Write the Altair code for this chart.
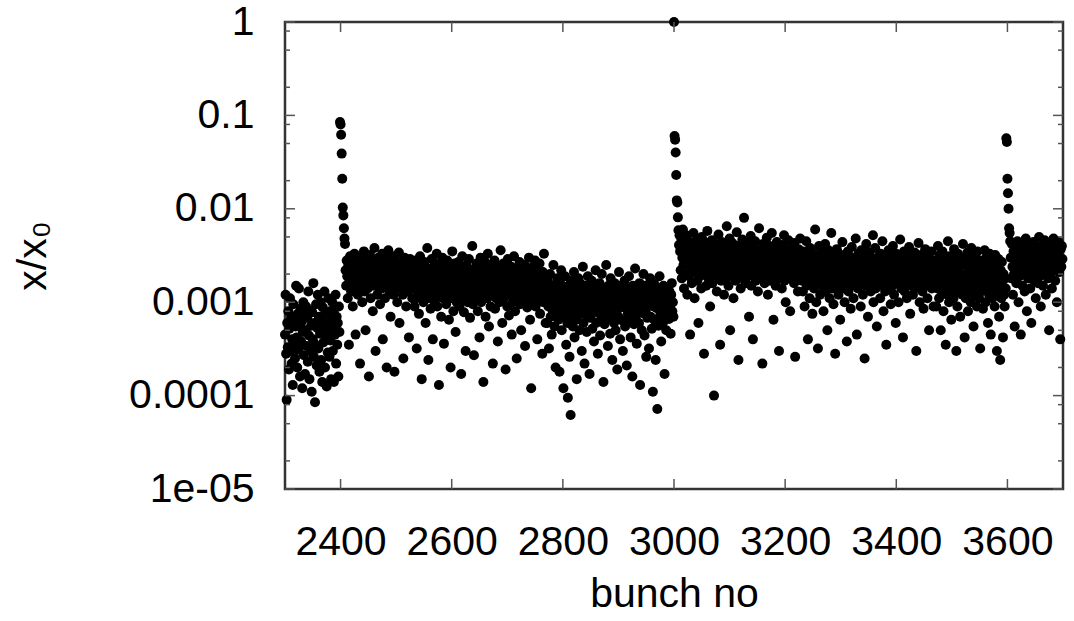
import altair as alt
import pandas as pd

# ---- values (x/x0 in units of 1e-4), one per bunch ----
seg_a_start = 2300
seg_a = [4.5, 12, 2.8, 0.9, 6, 3.3, 8, 1.9, 5.2, 11, 3, 7, 2.2, 4, 1.3, 9.5, 3.6, 6.5, 2.5, 5.5,
         15, 4.2, 2, 7.5, 3.1, 14, 5.8, 1.6, 8.5, 3.8, 6.2, 1.2, 4.8, 10, 2.7, 7.2, 1.7, 5, 9, 3.4,
         6.8, 2.3, 13, 4.4, 1.5, 8.2, 3, 5.6, 1.1, 7.8, 4, 16, 2.6, 6, 0.85, 3.5, 9.5, 2.1, 5.3, 12,
         3.2, 7, 1.8, 4.6, 10, 2.4, 6.4, 1.4, 8.8, 3.7, 5.5, 13, 2, 7.6, 4.2, 1.25, 6, 2.9, 11, 4.9,
         2.6, 8, 3.9, 1.5, 6.6, 10, 3, 5.4, 1.4, 8.5, 4.5, 12, 2.2, 7, 3.5, 6, 1.6, 9, 4.8]

spike1_start = 2399
spike1 = [850, 800, 620, 390, 210, 103, 85, 62, 48, 42]

seg_b1_start = 2409
seg_b1 = [22, 15, 28, 19, 11, 25, 3.5, 17, 31, 21, 13, 24, 18, 9, 27, 16, 33, 20, 4.5, 14,
          26, 19, 12, 23, 30, 17, 2.2, 21, 15, 29, 10, 24, 18, 35, 13, 22, 5, 16, 27, 20,
          14, 25, 1.6, 19, 32, 11, 23, 17, 28, 8, 21, 15, 38, 24, 3, 18, 26, 12, 20, 30,
          16, 22, 9.5, 27, 19, 14, 33, 4, 21, 17, 25, 11, 29, 18, 2, 23, 15, 36, 20, 13,
          26, 7, 19, 24, 16, 31, 12, 22, 1.8, 18, 28, 14, 21, 10, 25, 17, 34, 6, 20, 23,
          15, 27, 19, 12, 2.5, 22, 30, 16, 24, 9, 18, 26, 13, 21, 4.2, 17, 29, 14, 23, 19,
          11, 25]

seg_b2_start = 2531
seg_b2 = [14, 22, 9, 17, 28, 11, 3.2, 19, 13, 25, 7.5, 16, 31, 12, 20, 1.5, 15, 24, 10, 18,
          27, 13, 6, 21, 16, 38, 11, 2.4, 19, 14, 23, 8.5, 17, 29, 12, 4, 20, 15, 10, 26,
          13, 18, 33, 9, 22, 16, 1.3, 12, 25, 19, 7, 14, 30, 11, 21, 3.6, 17, 13, 24, 9.5,
          16, 28, 12, 19, 6.5, 23, 15, 2, 11, 20, 35, 14, 8, 18, 26, 13, 4.8, 22, 10, 17,
          12, 27, 16, 9, 21, 14, 1.7, 19, 31, 11, 24, 7.8, 15, 18, 3, 13, 25, 20, 10, 16,
          29, 12, 6.8, 22, 17, 14, 40, 9.5, 19, 2.7, 13, 23, 11, 18, 26, 15, 8, 21, 12, 4.2,
          16, 30, 10, 19, 14, 24, 1.4, 17, 12, 27, 7, 20, 15, 11, 33, 18, 5.5, 13, 22, 9,
          16, 25, 12, 2.2, 19, 14, 28, 8.5, 21, 11, 17, 13, 3.8, 24, 15, 10, 20, 36, 12, 18,
          6, 14, 26, 11, 22, 16, 1.9, 13, 19, 9, 29, 15, 7.2, 21, 12, 17, 24, 4.5, 14, 10,
          18, 31, 13, 8, 20, 15, 2.5, 11, 23, 16, 12, 27, 9.5, 19, 5, 14, 22, 10, 17, 13,
          25, 3.4, 12, 18, 15, 8.8, 21, 11, 30, 14, 6.5, 16, 1.2, 20, 13, 24, 10, 17, 12, 28,
          9, 15, 19, 4, 22, 11, 14, 26, 7.5, 18, 13, 16, 2.8, 21, 10, 33, 12, 17, 6, 15]

seg_b3_start = 2771
seg_b3 = [11, 6, 17, 9, 3.2, 13, 20, 7, 10, 4.5, 15, 8, 25, 12, 5.5, 9.5, 2, 14, 7.5, 18,
          10, 6.5, 12, 1.8, 16, 9, 22, 5, 11, 8, 1.2, 14, 7, 19, 10, 3.5, 12, 6, 0.95, 15,
          8.5, 2.6, 11, 0.62, 17, 7, 13, 5.5, 9, 21, 4.2, 10, 14, 6.5, 1.5, 12, 8, 18, 9.5, 5,
          16, 7.5, 11, 3, 13, 24, 6, 9, 2.2, 15, 8, 12, 4.8, 10, 19, 7, 14, 1.7, 11, 6.8,
          9, 17, 5.2, 12, 8.5, 3.8, 13, 10, 22, 6, 15, 7.8, 2.8, 11, 9, 16, 4.4, 12, 7, 20,
          8, 14, 1.4, 10, 5.8, 13, 9, 25, 6.6, 11, 3.4, 15, 8.2, 12, 4.6, 18, 7.2, 10, 2.4, 13,
          9.5, 6, 16, 11, 5, 14, 8, 1.9, 12, 7, 21, 9, 4, 10, 15, 6.4, 13, 3, 11, 8.8,
          17, 5.5, 9.8, 12, 2.1, 14, 7.5, 10, 19, 6.2, 11, 4.2, 13, 8, 1.6, 15, 9, 5.8, 12, 23,
          7, 10, 3.6, 14, 8.4, 11, 6, 16, 1.3, 9, 13, 5, 12, 7.6, 20, 10, 4.4, 15, 8, 2.6,
          11, 6.8, 14, 9.2, 3.2, 12, 18, 7, 10, 5.2, 13, 1.1, 9, 16, 6.4, 11, 2.4, 14, 8.6, 0.72,
          12, 5.6, 10, 19, 7.2, 13, 3.8, 9.4, 11, 6, 15, 8, 1.7, 12, 9, 5, 14, 10, 7.4, 11,
          6.6, 13, 9, 4.6, 12, 16, 8, 10, 7]

spike2_start = 3000
spike2 = [10000, 600, 550, 400, 230, 123, 117, 81, 59, 41, 52]

seg_d1_start = 3011
seg_d1 = [35, 22, 48, 18, 30, 60, 25, 14, 40, 28, 20, 52, 33, 12, 27, 45, 19, 36, 4.5, 24,
          31, 16, 42, 26, 55, 21, 11, 38, 29, 23, 47, 17, 34, 6, 25, 41, 19, 30, 14, 50,
          27, 22, 36, 2.8, 44, 20, 32, 15, 28, 58, 24, 18, 39, 26, 9, 33, 21, 46, 16, 30,
          25, 1.0, 35, 19, 42, 27, 13, 31, 23, 53, 20, 37, 3.5, 26, 17, 44, 29, 22, 34, 12,
          40, 24, 18, 30, 65, 21, 36, 15, 27, 48, 5, 25, 33, 19, 43, 28, 11, 31, 22, 38,
          17, 26, 56, 20, 35, 2.4, 29, 24, 41, 14, 32, 23, 47, 18, 27, 80, 21, 37, 16, 30,
          25, 43, 19, 34, 7, 28, 22, 51, 15, 33, 26, 4, 39, 20, 29, 45, 17, 31, 24, 36,
          13, 27, 62, 21, 35, 18, 30, 25, 2.2, 42, 23, 28, 16, 38, 20, 33, 49, 26, 12, 31,
          22, 40, 17, 29, 24, 55, 19, 34, 6.5, 27, 21, 37, 15, 30, 44, 25, 18, 32, 3, 23,
          36, 20, 28, 14, 41, 26, 22, 52, 17, 31, 10, 24, 35, 19, 29, 46, 21, 27, 8, 33,
          18, 39, 25, 22, 30, 16, 43, 2.6, 28, 20, 34, 24, 13, 37, 26, 19, 48, 23, 31, 17]

seg_d2_start = 3231
seg_d2 = [24, 13, 35, 18, 9, 28, 21, 45, 15, 31, 4, 19, 26, 11, 38, 22, 16, 30, 7.5, 20,
          33, 14, 25, 60, 18, 10, 29, 23, 3.2, 17, 40, 21, 12, 27, 19, 34, 15, 24, 8, 30,
          18, 42, 13, 22, 26, 5, 16, 36, 20, 11, 28, 17, 55, 23, 14, 31, 9.5, 19, 25, 2.8,
          21, 15, 37, 18, 27, 12, 33, 22, 6.5, 16, 29, 20, 44, 14, 24, 19, 10, 32, 17, 26,
          3.8, 21, 35, 13, 23, 18, 28, 8.5, 15, 39, 20, 25, 11, 30, 16, 22, 48, 19, 4.5, 27,
          14, 33, 21, 17, 26, 9, 36, 18, 23, 12, 31, 20, 2.5, 25, 15, 42, 19, 28, 7, 22,
          16, 34, 24, 13, 29, 18, 21, 52, 10, 26, 17, 38, 14, 23, 5.5, 30, 20, 15, 27, 19,
          11, 33, 22, 16, 45, 25, 8, 18, 28, 13, 21, 3.5, 31, 17, 24, 36, 14, 20, 26, 9.5,
          19, 29, 15, 40, 22, 12, 27, 18, 6, 33, 21, 16, 25, 10, 30, 17, 47, 23, 14, 20,
          28, 4.2, 19, 35, 13, 24, 18, 26, 11, 31, 16, 22, 39, 20, 7.5, 27, 15, 21, 29, 12,
          25, 18, 34, 14, 23, 3, 30, 19, 17, 43, 21, 10, 26, 16, 32, 20, 13, 24, 8.5, 28,
          18, 37, 15, 22, 27, 11, 19, 30, 5, 25, 16, 21, 35, 14, 24, 19, 9, 28, 17, 23]

seg_d3_start = 3471
seg_d3 = [18, 9, 27, 14, 40, 21, 11, 32, 16, 5, 24, 13, 35, 19, 8, 29, 15, 22, 3.5, 17,
          26, 12, 45, 20, 10, 31, 16, 23, 6.5, 14, 28, 19, 11, 37, 17, 25, 13, 3, 21, 9,
          33, 15, 24, 18, 7, 30, 14, 20, 12, 42, 16, 27, 4.2, 19, 11, 25, 15, 34, 8, 22,
          13, 29, 17, 10, 38, 20, 14, 26, 5.5, 18, 12, 31, 16, 23, 9, 35, 15, 21, 11, 28,
          3.2, 19, 13, 27, 17, 8.5, 24, 14, 36, 20, 10, 30, 16, 22, 6, 25, 12, 33, 18, 4.5,
          15, 28, 11, 21, 17, 26, 9, 32, 14, 19, 3.0, 23, 13, 29, 7, 16, 2.4, 22, 11, 27,
          15, 4.2, 20, 12, 9, 18, 14]

spike3_start = 3598
spike3 = [570, 520, 210, 147, 100, 62, 55, 45]

seg_f_start = 3606
seg_f = [30, 18, 42, 24, 12, 35, 20, 5.5, 28, 38, 16, 26, 45, 22, 10, 33, 19, 29, 4.5, 25,
         40, 15, 31, 23, 36, 13, 27, 48, 21, 8, 34, 18, 26, 42, 30, 14, 24, 6, 37, 20,
         28, 44, 17, 33, 25, 11, 39, 22, 31, 16, 27, 50, 19, 35, 9, 29, 24, 41, 15, 32,
         21, 46, 26, 12, 34, 23, 38, 18, 30, 5, 27, 43, 20, 36, 14, 25, 33, 48, 22, 31,
         17, 39, 26, 10, 35, 28, 44, 21, 30, 4, 37, 24, 40, 29]

UNIT = 1e-4

# ---- axis ticks / labels ----
x_ticks = [2400, 2600, 2800, 3000, 3200, 3400, 3600]
y_ticks = [1e-5, 1e-4, 1e-3, 1e-2, 1e-1, 1]
y_tick_labels = ["1e-05", "0.0001", "0.001", "0.01", "0.1", "1"]
y_minor_mantissas = [2, 5, 8]

segments = [
    (seg_a_start, seg_a), (spike1_start, spike1), (seg_b1_start, seg_b1),
    (seg_b2_start, seg_b2), (seg_b3_start, seg_b3), (spike2_start, spike2),
    (seg_d1_start, seg_d1), (seg_d2_start, seg_d2), (seg_d3_start, seg_d3),
    (spike3_start, spike3), (seg_f_start, seg_f),
]
rows = []
for start, vals in segments:
    for i, v in enumerate(vals):
        rows.append({"bunch": start + i, "ratio": v * UNIT})
df = pd.DataFrame(rows)

W, H = 778, 467
FONT = "Liberation Sans"
FS = 41

xscale = alt.Scale(domain=[2300, 3700], nice=False, zero=False)
yscale = alt.Scale(type="log", domain=[1e-5, 1], nice=False)

label_array = "[" + ",".join("'" + s + "'" for s in y_tick_labels) + "]"
label_expr = label_array + "[round(log(datum.value)/LN10)+5]"

points = alt.Chart(df).mark_circle(size=100, color="black", opacity=1).encode(
    x=alt.X("bunch:Q", scale=xscale,
            axis=alt.Axis(values=x_ticks, format="d", ticks=False, tickSize=0, domain=False,
                          grid=False, labelPadding=33, labelFontSize=FS, labelFont=FONT,
                          labelColor="black", title="bunch no", titleFont=FONT,
                          titleFontSize=FS, titleFontWeight="normal", titleColor="black",
                          titlePadding=12)),
    y=alt.Y("ratio:Q", scale=yscale,
            axis=alt.Axis(values=y_ticks, labelExpr=label_expr, ticks=False, tickSize=0,
                          domain=False, grid=False, labelPadding=31, labelFontSize=FS,
                          labelFont=FONT, labelColor="black", title="x/x₀", titleFont=FONT,
                          titleFontSize=FS, titleFontWeight="normal", titleColor="black",
                          titleX=-252, titleBaseline="middle")),
)

xt = pd.DataFrame({"v": x_ticks})
yt = pd.DataFrame({"v": y_ticks})
ym = pd.DataFrame({"v": [m * d for d in y_ticks[:-1] for m in y_minor_mantissas]})

tick_color = "#555"
x_bottom = alt.Chart(xt).mark_rule(color=tick_color, strokeWidth=1.5).encode(
    x=alt.X("v:Q", scale=xscale), y=alt.value(H), y2=alt.value(H - 10))
x_top = alt.Chart(xt).mark_rule(color=tick_color, strokeWidth=1.5).encode(
    x=alt.X("v:Q", scale=xscale), y=alt.value(0), y2=alt.value(10))
y_left = alt.Chart(yt).mark_rule(color=tick_color, strokeWidth=1.5).encode(
    y=alt.Y("v:Q", scale=yscale), x=alt.value(0), x2=alt.value(10))
y_right = alt.Chart(yt).mark_rule(color=tick_color, strokeWidth=1.5).encode(
    y=alt.Y("v:Q", scale=yscale), x=alt.value(W - 10), x2=alt.value(W))
ym_left = alt.Chart(ym).mark_rule(color=tick_color, strokeWidth=1.5).encode(
    y=alt.Y("v:Q", scale=yscale), x=alt.value(0), x2=alt.value(5))
ym_right = alt.Chart(ym).mark_rule(color=tick_color, strokeWidth=1.5).encode(
    y=alt.Y("v:Q", scale=yscale), x=alt.value(W - 5), x2=alt.value(W))

chart = alt.layer(points, x_bottom, x_top, y_left, y_right, ym_left, ym_right).properties(
    width=W, height=H,
    autosize=alt.AutoSizeParams(type="none"),
    padding={"left": 285, "top": 22, "right": 11, "bottom": 132},
    background="white",
).configure_view(stroke="#333", strokeWidth=2.5)

chart.save("out.html", embed_options={"renderer": "svg", "actions": False})
